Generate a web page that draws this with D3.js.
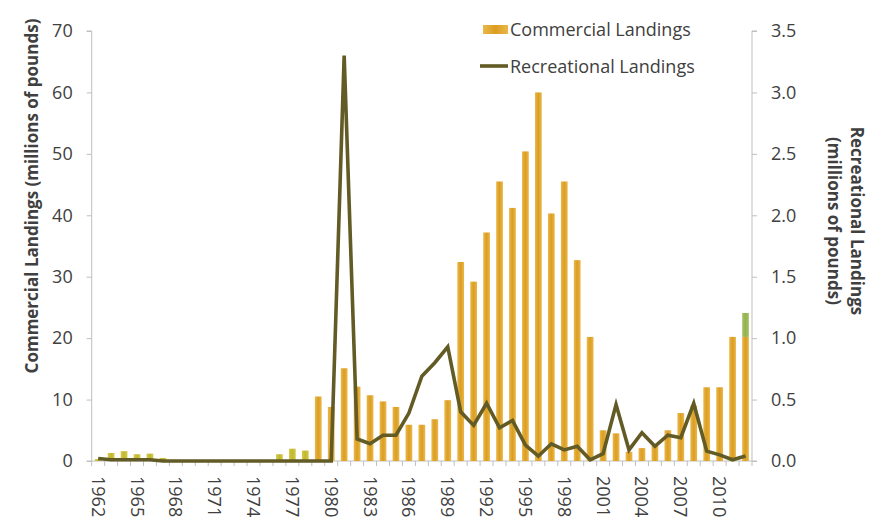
<!DOCTYPE html>
<html><head><meta charset="utf-8">
<script src="https://cdn.jsdelivr.net/npm/d3@7"></script>
<style>
body{margin:0;background:#fff}
text{font-family:"Open Sans","Liberation Sans",sans-serif;fill:#404040}
</style>
</head><body>
<svg id="chart" width="882" height="527"></svg>
<script>
const years = [1962,1963,1964,1965,1966,1967,1968,1969,1970,1971,1972,1973,1974,1975,1976,1977,1978,1979,1980,1981,1982,1983,1984,1985,1986,1987,1988,1989,1990,1991,1992,1993,1994,1995,1996,1997,1998,1999,2000,2001,2002,2003,2004,2005,2006,2007,2008,2009,2010,2011,2012];
const commercial = [0.3,1.3,1.6,1.1,1.2,0.5,0.1,0,0,0,0,0,0,0,1.1,2.0,1.7,10.5,8.8,15.1,12.1,10.7,9.7,8.8,5.9,5.9,6.8,9.9,32.4,29.2,37.2,45.5,41.2,50.4,60.0,40.3,45.5,32.7,20.2,5.0,4.5,1.5,2.1,2.5,5.0,7.8,9.0,12.0,12.0,20.2,20.2];
const commercialExtra = [0,0,0,0,0,0,0,0,0,0,0,0,0,0,0,0,0,0,0,0,0,0,0,0,0,0,0,0,0,0,0,0,0,0,0,0,0,0,0,0,0,0,0,0,0,0,0,0,0,0,3.9];
const recreational = [0.02,0.01,0.01,0.01,0.01,0,0,0,0,0,0,0,0,0,0,0,0,0,0,3.30,0.18,0.14,0.21,0.21,0.39,0.69,0.80,0.93,0.40,0.29,0.47,0.27,0.33,0.13,0.04,0.14,0.09,0.12,0.01,0.06,0.46,0.09,0.23,0.12,0.21,0.19,0.47,0.08,0.05,0.01,0.04];
const xTickLabels = [1962,1965,1968,1971,1974,1977,1980,1983,1986,1989,1992,1995,1998,2001,2004,2007,2010];
const leftTicks = [0,10,20,30,40,50,60,70];
const rightTicks = [0,0.5,1.0,1.5,2.0,2.5,3.0,3.5];
const seriesNames = ["Commercial Landings","Recreational Landings"];
const leftTitle = "Commercial Landings (millions of pounds)";
const rightTitle = ["Recreational Landings","(millions of pounds)"];

const svg = d3.select("#chart");
const L = 91.7, R = 752, T = 31, B = 461;
const axisColor = "#bfbfbf";
const x = d3.scaleBand().domain(years).range([L, R]).paddingInner(0.48).paddingOuter(0.24);
const yL = d3.scaleLinear().domain([0,70]).range([B, T]);
const yR = d3.scaleLinear().domain([0,3.5]).range([B, T]);

const defs = svg.append("defs");
function grad(id, edge, mid){
  const g = defs.append("linearGradient").attr("id", id).attr("x1","0").attr("x2","1").attr("y1","0").attr("y2","0");
  g.append("stop").attr("offset","0%").attr("stop-color", edge);
  g.append("stop").attr("offset","50%").attr("stop-color", mid);
  g.append("stop").attr("offset","100%").attr("stop-color", edge);
}
grad("gOrange", "#e9b84a", "#dc9d22");
grad("gYellow", "#d3cb4c", "#c2b72c");
grad("gGreen", "#aac36a", "#93b14d");

// axes
const leftAxis = d3.axisLeft(yL).tickValues(leftTicks).tickSize(5).tickPadding(14).tickFormat(d3.format("d"));
const gl = svg.append("g").attr("transform", `translate(${L},0)`).call(leftAxis);
const rightAxis = d3.axisRight(yR).tickValues(rightTicks).tickSize(5).tickPadding(14).tickFormat(d3.format(".1f"));
const gr = svg.append("g").attr("transform", `translate(${R},0)`).call(rightAxis);
[gl, gr].forEach(g => {
  g.selectAll(".tick line").attr("stroke", axisColor);
  g.selectAll(".tick text").style("font-size","18px").attr("fill","#404040");
});
gl.select(".domain").attr("stroke", axisColor).attr("d", `M-5,${T}H0V${B}H-5`).attr("fill","none");
gr.select(".domain").attr("stroke", axisColor).attr("d", `M5,${T}H0V${B}H5`).attr("fill","none");

// bottom axis
const bottomAxis = d3.axisBottom(x).tickValues(xTickLabels).tickSize(0).tickPadding(0);
const gb = svg.append("g").attr("transform", `translate(0,${B})`).call(bottomAxis);
gb.select(".domain").attr("stroke", axisColor).attr("d", `M${L},0H${R}`);
gb.selectAll(".tick text")
  .attr("transform", "rotate(90)")
  .attr("x", 15).attr("y", 0).attr("dy", "0.36em")
  .attr("text-anchor", "start")
  .style("font-size", "18px").attr("fill","#404040");
// category boundary tick marks
gb.selectAll(".cat-tick").data(years.concat([null])).enter().append("line")
  .attr("x1", (d,i) => L + i * x.step()).attr("x2", (d,i) => L + i * x.step())
  .attr("y1", 0).attr("y2", 5).attr("stroke", axisColor);

// bars
const bw = x.bandwidth();
const bars = svg.append("g");
bars.selectAll("rect.c").data(years).enter().append("rect")
  .attr("x", d => x(d)).attr("width", bw)
  .attr("y", (d,i) => yL(commercial[i]))
  .attr("height", (d,i) => B - yL(commercial[i]))
  .attr("fill", d => d < 1979 ? "url(#gYellow)" : "url(#gOrange)");
bars.selectAll("rect.e").data(years).enter().append("rect")
  .attr("x", d => x(d)).attr("width", bw)
  .attr("y", (d,i) => yL(commercial[i] + commercialExtra[i]))
  .attr("height", (d,i) => yL(commercial[i]) - yL(commercial[i] + commercialExtra[i]))
  .attr("fill", "url(#gGreen)");

// line
const lineColor = "#625b25";
const line = d3.line().x((d,i) => x(years[i]) + bw/2).y(d => yR(d));
svg.append("path").datum(recreational).attr("d", line)
  .attr("fill","none").attr("stroke",lineColor).attr("stroke-width",3.6)
  .attr("stroke-linejoin","miter").attr("stroke-linecap","butt");

// axis titles
svg.append("text").attr("transform", "translate(38,196) rotate(-90)")
  .attr("text-anchor","middle").style("font-size","17px").style("font-weight","bold")
  .attr("fill","#262626").text(leftTitle);
svg.append("text").attr("transform", "translate(851,221) rotate(90)")
  .attr("text-anchor","middle").style("font-size","17px").style("font-weight","bold")
  .attr("fill","#262626").text(rightTitle[0]);
svg.append("text").attr("transform", "translate(828,221) rotate(90)")
  .attr("text-anchor","middle").style("font-size","17px").style("font-weight","bold")
  .attr("fill","#262626").text(rightTitle[1]);

// legend
const lg = svg.append("g");
lg.append("rect").attr("x",483).attr("y",25).attr("width",25).attr("height",9).attr("fill","url(#gOrange)");
lg.append("text").attr("x",510).attr("y",35.5).style("font-size","18px").attr("fill","#262626").text(seriesNames[0]);
lg.append("line").attr("x1",480).attr("x2",508).attr("y1",66).attr("y2",66).attr("stroke",lineColor).attr("stroke-width",3.6);
lg.append("text").attr("x",510).attr("y",72.5).style("font-size","18px").attr("fill","#262626").text(seriesNames[1]);
</script>
</body></html>
